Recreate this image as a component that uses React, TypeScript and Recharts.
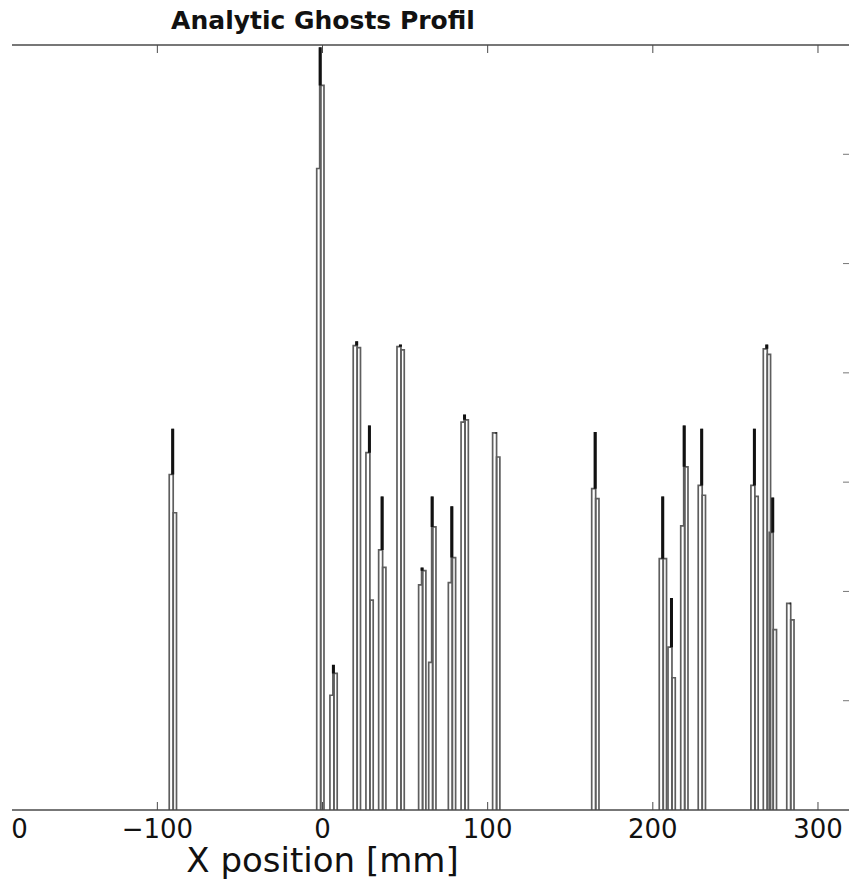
import { LineChart, Line, XAxis, YAxis } from "recharts";

// Ghost peaks: left edge of each peak [mm] and the
// heights of its three bins (left bin, narrow spike bin, right bin).
const PEAK_X = [-92.8, -3.5, 4.5, 18.6, 26.3, 34.0, 45.1, 58.2, 64.3, 76.2, 83.9, 103.0, 163.0, 203.9, 209.2, 216.9, 227.5, 259.4, 266.9, 270.5, 281.1];
const LEFT_H = [3.07, 5.87, 1.05, 4.25, 3.27, 2.38, 4.24, 2.06, 1.35, 2.08, 3.55, 3.45, 2.94, 2.3, 1.49, 2.6, 2.97, 2.97, 4.22, 2.54, 1.89];
const SPIKE_H = [3.48, 6.97, 1.32, 4.28, 3.51, 2.86, 4.25, 2.21, 2.86, 2.77, 3.61, 3.45, 3.45, 2.86, 1.93, 3.51, 3.48, 3.48, 4.25, 2.85, 1.89];
const RIGHT_H = [2.72, 6.63, 1.25, 4.23, 1.92, 2.22, 4.21, 2.19, 2.59, 2.31, 3.57, 3.23, 2.85, 2.3, 1.21, 3.14, 2.88, 2.87, 4.17, 1.65, 1.74];

// bin widths [mm]
const LEFT_W = 1.8;
const SPIKE_W = 0.6;
const RIGHT_W = 2.0;

const X_DOMAIN: [number, number] = [-320, 320];
const X_TICKS = [-300, -200, -100, 0, 100, 200, 300];
const Y_TICKS = [0, 1, 2, 3, 4, 5, 6, 7];

const FONT = "'DejaVu Sans', Verdana, sans-serif";
const AXIS_STROKE = "#4a4a4a";
const STEP_STROKE = "#5e5e5e";

function fmtX(v: number): string {
  return String(v).replace("-", "\u2212");
}

const noLabel = () => "";

// two overlaid step histograms per peak (left bin + spike, right bin),
// plus the narrow spike drawn dark where its edges run together
const peaks = PEAK_X.map((x0, i) => {
  const x1 = x0 + LEFT_W;
  const x2 = x1 + SPIKE_W;
  const x3 = x2 + RIGHT_W;
  const base = Math.max(LEFT_H[i], RIGHT_H[i]);
  return {
    left: [
      { x: x0, y: 0 },
      { x: x0, y: LEFT_H[i] },
      { x: x1, y: SPIKE_H[i] },
      { x: x2, y: 0 },
    ],
    right: [
      { x: x2, y: 0 },
      { x: x2, y: RIGHT_H[i] },
      { x: x3, y: 0 },
    ],
    spike: [
      { x: x1, y: base },
      { x: x1, y: SPIKE_H[i] },
      { x: x2, y: SPIKE_H[i] },
      { x: x2, y: base },
    ],
  };
});

export default function App() {
  return (
    <div style={{ position: "fixed", left: 0, top: 0, width: 849, height: 880, overflow: "hidden", background: "#fff" }}>
      <svg width={849} height={60} style={{ position: "absolute", left: 0, top: 0 }}>
        <text x={323} y={29} textAnchor="middle" fontFamily={FONT} fontWeight="bold" fontSize={25} fill="#111">
          Analytic Ghosts Profil
        </text>
      </svg>

      {/* picture is cropped at x=12, the axes run on past the left edge */}
      <div style={{ position: "absolute", left: 12, top: 0, width: 837, height: 880, overflow: "hidden" }}>
        <div style={{ position: "absolute", left: -218, top: 0 }}>
          <LineChart width={1067} height={880} margin={{ top: 44, right: 0, bottom: 0, left: 0 }}>
            <XAxis
              xAxisId="top"
              orientation="top"
              type="number"
              dataKey="x"
              domain={X_DOMAIN}
              ticks={X_TICKS}
              allowDataOverflow
              height={1}
              tickFormatter={noLabel}
              tickSize={-8}
              tickLine={{ stroke: AXIS_STROKE, strokeWidth: 1 }}
              axisLine={{ stroke: AXIS_STROKE, strokeWidth: 1.5 }}
            />
            <XAxis
              type="number"
              dataKey="x"
              domain={X_DOMAIN}
              ticks={X_TICKS}
              allowDataOverflow
              height={70}
              tickSize={-8}
              tickMargin={18}
              tickFormatter={fmtX}
              tick={{ fontSize: 26, fontFamily: FONT, fill: "#111" }}
              tickLine={{ stroke: AXIS_STROKE, strokeWidth: 1 }}
              axisLine={{ stroke: AXIS_STROKE, strokeWidth: 1.5 }}
              label={{ value: "X position [mm]", position: "insideBottom", offset: 8, fontSize: 34, fontFamily: FONT, fill: "#111" }}
            />
            <YAxis
              orientation="right"
              type="number"
              domain={[0, 7]}
              ticks={Y_TICKS}
              allowDataOverflow
              width={10}
              tickFormatter={noLabel}
              tickSize={-8}
              tickLine={{ stroke: "#777", strokeWidth: 1 }}
              axisLine={{ stroke: "#bbb", strokeWidth: 1 }}
            />
            {peaks.map((p, i) => (
              <Line
                key={`l${i}`}
                data={p.left}
                dataKey="y"
                type="stepAfter"
                stroke={STEP_STROKE}
                strokeWidth={1.7}
                dot={false}
                activeDot={false}
                isAnimationActive={false}
              />
            ))}
            {peaks.map((p, i) => (
              <Line
                key={`r${i}`}
                data={p.right}
                dataKey="y"
                type="stepAfter"
                stroke={STEP_STROKE}
                strokeWidth={1.7}
                dot={false}
                activeDot={false}
                isAnimationActive={false}
              />
            ))}
            {peaks.map((p, i) => (
              <Line
                key={`s${i}`}
                data={p.spike}
                dataKey="y"
                type="linear"
                stroke="#111"
                strokeWidth={2}
                dot={false}
                activeDot={false}
                isAnimationActive={false}
              />
            ))}
          </LineChart>
        </div>
      </div>
    </div>
  );
}
